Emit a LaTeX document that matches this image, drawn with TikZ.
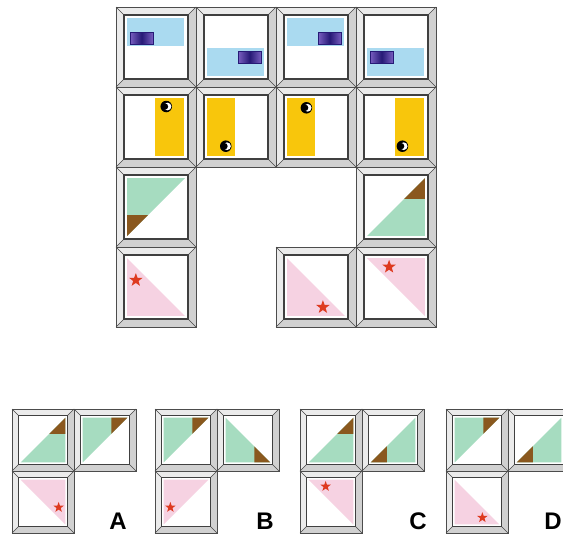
\documentclass[tikz,border=0pt]{standalone}
\usepackage{fontspec}
\usepackage{xcolor}
\usepackage{tikz}
\usetikzlibrary{calc, positioning}
\setsansfont{Liberation Sans}

\definecolor{skyband}{RGB}{170,218,240}
\definecolor{inkblue}{RGB}{38,26,118}
\definecolor{inkviolet}{RGB}{118,92,190}
\definecolor{sunyellow}{RGB}{248,198,12}
\definecolor{mintgreen}{RGB}{166,220,192}
\definecolor{bronze}{RGB}{138,88,30}
\definecolor{rosepink}{RGB}{246,210,226}
\definecolor{starclr}{RGB}{222,58,32}

\tikzset{
  bevlight/.style={fill=gray!16},
  bevdark/.style={fill=gray!36},
  bevline/.style={draw=gray!55!black, line width=0.5pt},
  outerline/.style={draw=gray!60!black, line width=0.7pt},
  innerline/.style={draw=black!75, line width=1.3pt, fill=white},
  optlabel/.style={font=\sffamily\bfseries\fontsize{24}{24}\selectfont, inner sep=0pt}
}

% corner points of the inner square (unit square, y down)
\newcommand{\corners}{%
  \coordinate (tl) at (0.05,0.05);
  \coordinate (tr) at (0.95,0.05);
  \coordinate (bl) at (0.05,0.95);
  \coordinate (br) at (0.95,0.95);}

% bevelled frame: x, y, size, content
\newcommand{\frametile}[4]{%
  \begin{scope}[xshift=#1pt, yshift=-#2pt]
    \pgfmathsetmacro{\mg}{0.1*#3}
    \pgfmathsetmacro{\fr}{0.8*#3}
    \fill[bevlight] (0,0) rectangle (#3,#3);
    \fill[bevdark] (#3,0) -- (#3,#3) -- (0,#3) -- (\mg,#3-\mg) -- (#3-\mg,#3-\mg) -- (#3-\mg,\mg) -- cycle;
    \draw[bevline] (0,0) -- (\mg,\mg) (#3,0) -- (#3-\mg,\mg) (0,#3) -- (\mg,#3-\mg) (#3,#3) -- (#3-\mg,#3-\mg);
    \draw[outerline] (0,0) rectangle (#3,#3);
    \draw[innerline] (\mg,\mg) rectangle (#3-\mg,#3-\mg);
    \begin{scope}[xshift=\mg pt, yshift=-\mg pt, x=\fr pt, y=-\fr pt]
      \corners
      #4
    \end{scope}
  \end{scope}}

% blue band with dark block: band top, block left, block top
\newcommand{\skytile}[3]{%
  \fill[skyband] (0.05,#1) rectangle (0.93,#1+0.43);
  \shade[left color=inkviolet, right color=inkviolet, middle color=inkblue] (#2,#3) rectangle (#2+0.35,#3+0.19);
  \draw[inkblue, line width=0.4pt] (#2,#3) rectangle (#2+0.35,#3+0.19);}

% yellow strip with moon: strip left, moon x, moon y
\newcommand{\suntile}[3]{%
  \fill[sunyellow] (#1,0.05) rectangle (#1+0.44,0.95);
  \fill[black] (#2,#3) circle[radius=0.09];
  \fill[white] (#2+0.02,#3) circle[radius=0.06];
  \fill[black] (#2-0.02,#3) circle[radius=0.05];}

% green half: right angle, brown tip, other tip
\newcommand{\greentip}[3]{%
  \fill[mintgreen] (#1) -- (#2) -- (#3) -- cycle;
  \fill[bronze] (#2) -- (barycentric cs:#2=0.64,#1=0.36) -- (barycentric cs:#2=0.64,#3=0.36) -- cycle;}

% pink half: right angle, star tip, other tip
\newcommand{\pinkstar}[3]{%
  \fill[rosepink] (#1) -- (#2) -- (#3) -- cycle;
  \coordinate (st) at (barycentric cs:#2=0.62,#1=0.23,#3=0.15);
  \fill[starclr] ($(st)+(-90:0.11)$) \foreach \k in {1,...,4}{ -- ($(st)+({-54+72*(\k-1)}:0.045)$) -- ($(st)+({-18+72*(\k-1)}:0.11)$) } -- ($(st)+(234:0.045)$) -- cycle;}

\begin{document}
\begin{tikzpicture}[x=1pt, y=-1pt]
  \useasboundingbox (0,0) rectangle (563,536);

  % Blue bands
  \frametile{116}{7}{80}{\skytile{0.05}{0.10}{0.27}}
  \frametile{196}{7}{80}{\skytile{0.52}{0.54}{0.57}}
  \frametile{276}{7}{80}{\skytile{0.05}{0.54}{0.27}}
  \frametile{356}{7}{80}{\skytile{0.52}{0.10}{0.57}}

  % Yellow strips
  \frametile{116}{87}{80}{\suntile{0.49}{0.66}{0.18}}
  \frametile{196}{87}{80}{\suntile{0.05}{0.34}{0.80}}
  \frametile{276}{87}{80}{\suntile{0.05}{0.35}{0.20}}
  \frametile{356}{87}{80}{\suntile{0.49}{0.60}{0.80}}

  % Green halves
  \frametile{116}{167}{80}{\greentip{tl}{bl}{tr}}
  \frametile{356}{167}{80}{\greentip{br}{tr}{bl}}

  % Pink halves
  \frametile{116}{247}{80}{\pinkstar{bl}{tl}{br}}
  \frametile{276}{247}{80}{\pinkstar{bl}{br}{tl}}
  \frametile{356}{247}{80}{\pinkstar{tr}{tl}{br}}

  % Option A
  \frametile{12}{409}{62}{\greentip{br}{tr}{bl}}
  \frametile{74}{409}{62}{\greentip{tl}{tr}{bl}}
  \frametile{12}{471}{62}{\pinkstar{tr}{br}{tl}}
  \node[optlabel] (optA) at (118,521) {A};

  % Option B
  \frametile{155}{409}{62}{\greentip{tl}{tr}{bl}}
  \frametile{217}{409}{62}{\greentip{bl}{br}{tl}}
  \frametile{155}{471}{62}{\pinkstar{tl}{bl}{tr}}
  \node[optlabel] (optB) at (265,521) {B};

  % Option C
  \frametile{300}{409}{62}{\greentip{br}{tr}{bl}}
  \frametile{362}{409}{62}{\greentip{br}{bl}{tr}}
  \frametile{300}{471}{62}{\pinkstar{tr}{tl}{br}}
  \node[optlabel] (optC) at (418,521) {C};

  % Option D
  \frametile{446}{409}{62}{\greentip{tl}{tr}{bl}}
  \frametile{508}{409}{62}{\greentip{br}{bl}{tr}}
  \frametile{446}{471}{62}{\pinkstar{bl}{br}{tl}}
  \node[optlabel] (optD) at (553,521) {D};
\end{tikzpicture}
\end{document}
